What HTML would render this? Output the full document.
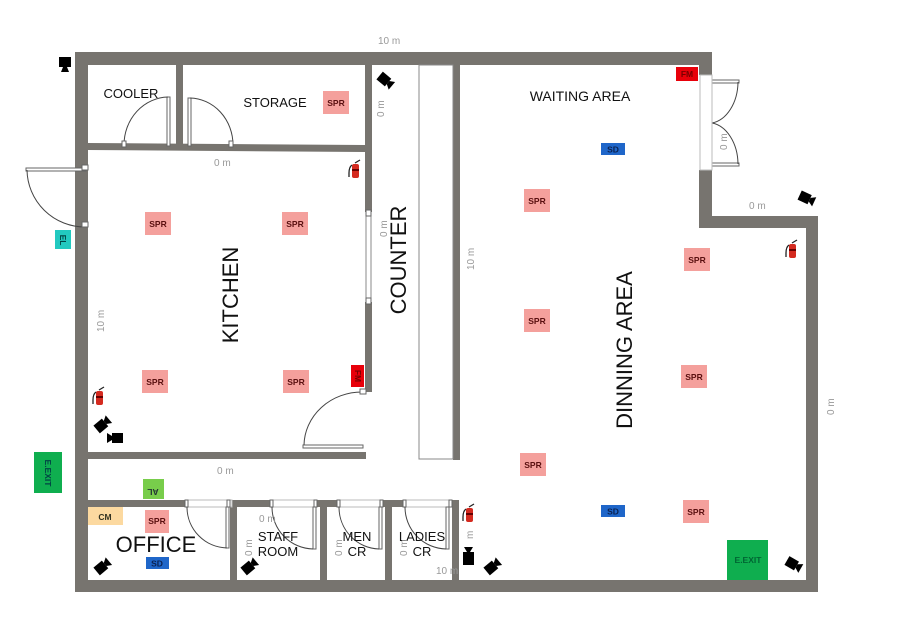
<!DOCTYPE html>
<html><head><meta charset="utf-8"><style>
html,body{margin:0;padding:0;background:#fff;}
svg{display:block;font-family:"Liberation Sans",sans-serif;}
.w{fill:#77746f;}
.d{fill:none;stroke:#444;stroke-width:1;}
.dl{fill:#fff;stroke:#666;stroke-width:1;}
.m{fill:#999;font-size:10px;}
.spr{fill:#f4a09c;}
.st{fill:#5a1010;font-size:8.5px;font-weight:bold;text-anchor:middle;}
.big{fill:#111;text-anchor:middle;}
</style></head><body>
<svg width="909" height="641" viewBox="0 0 909 641" xmlns="http://www.w3.org/2000/svg">
<defs>
<g id="cam"><rect x="-7" y="-5" width="11" height="10" fill="#000"/><polygon points="4,-2 9,-5 9,5 4,2" fill="#000"/></g>
<g id="ext"><rect x="-3" y="-6" width="7" height="14" rx="2" fill="#d42a1f"/><rect x="-3" y="-1" width="7" height="2" fill="#600"/><path d="M-3,-5 q-3,2 -3,8 l0,4" stroke="#222" stroke-width="1.3" fill="none"/><path d="M0,-7 l5,-3" stroke="#222" stroke-width="1.3"/></g>
</defs>
<!-- walls -->
<rect class="w" x="75" y="52" width="637" height="13"/>
<rect class="w" x="699" y="52" width="13" height="23"/>
<rect class="w" x="699" y="170" width="13" height="58"/>
<rect class="w" x="699" y="216" width="119" height="12"/>
<rect class="w" x="806" y="216" width="12" height="376"/>
<rect class="w" x="75" y="52" width="13" height="540"/>
<rect class="w" x="75" y="580" width="743" height="12"/>
<rect class="w" x="176" y="65" width="7" height="84"/>
<polygon class="w" points="87,143 365,145 365,152 87,150"/>
<rect class="w" x="365" y="65" width="7" height="147"/>
<rect class="w" x="365" y="302" width="7" height="90"/>
<rect class="w" x="87" y="452" width="279" height="7"/>
<rect class="w" x="453" y="65" width="7" height="395"/>
<rect class="w" x="87" y="500" width="98" height="7"/>
<rect class="w" x="230" y="500" width="7" height="80"/>
<rect class="w" x="320" y="500" width="7" height="80"/>
<rect class="w" x="385" y="500" width="7" height="80"/>
<rect class="w" x="452" y="500" width="7" height="80"/>
<rect class="w" x="232" y="500" width="38" height="7"/>
<rect class="w" x="317" y="500" width="20" height="7"/>
<rect class="w" x="383" y="500" width="20" height="7"/>
<!-- counter -->
<rect x="419" y="65" width="34" height="394" fill="#fff" stroke="#888" stroke-width="1"/>
<!-- kitchen window -->
<rect x="366" y="212" width="5" height="90" fill="#fff" stroke="#888"/>
<rect x="366" y="210" width="5" height="6" fill="#fff" stroke="#666"/>
<rect x="366" y="298" width="5" height="6" fill="#fff" stroke="#666"/>
<!-- doors -->
<rect class="dl" x="167" y="97" width="3" height="49"/>
<path class="d" d="M124,145 A45,48 0 0 1 168,97"/>
<rect class="dl" x="188" y="98" width="3" height="48"/>
<path class="d" d="M190,98 A44,47 0 0 1 233,145"/>
<rect class="dl" x="122" y="141" width="4" height="6"/><rect class="dl" x="229" y="141" width="4" height="6"/>
<rect class="dl" x="26" y="168" width="60" height="3"/>
<path class="d" d="M27,170 A58,58 0 0 0 85,227"/>
<rect class="dl" x="82" y="165" width="6" height="5"/><rect class="dl" x="82" y="222" width="6" height="5"/>
<rect class="dl" x="303" y="445" width="60" height="3"/>
<path class="d" d="M304,445 A58,54 0 0 1 362,392"/>
<rect class="dl" x="360" y="389" width="6" height="5"/>
<rect class="dl" x="712" y="80" width="27" height="3"/><rect class="dl" x="712" y="163" width="27" height="3"/>
<path class="d" d="M738,82 A30,42 0 0 1 712,123"/><path class="d" d="M712,123 A30,42 0 0 1 738,164"/>
<rect class="dl" x="700" y="75" width="12" height="95" style="fill:none;stroke:#bbb"/>
<g>
<rect class="dl" x="185" y="500" width="47" height="7" style="stroke:#bbb"/>
<rect class="dl" x="185" y="500" width="3" height="7"/><rect class="dl" x="227" y="500" width="3" height="7"/>
<rect class="dl" x="226" y="507" width="3" height="41"/>
<path class="d" d="M187,507 A41,41 0 0 0 227,548"/>
<rect class="dl" x="270" y="500" width="47" height="7" style="stroke:#bbb"/>
<rect class="dl" x="270" y="500" width="3" height="7"/><rect class="dl" x="314" y="500" width="3" height="7"/>
<rect class="dl" x="313" y="507" width="3" height="42"/>
<path class="d" d="M272,507 A42,42 0 0 0 313,549"/>
<rect class="dl" x="337" y="500" width="46" height="7" style="stroke:#bbb"/>
<rect class="dl" x="337" y="500" width="3" height="7"/><rect class="dl" x="380" y="500" width="3" height="7"/>
<rect class="dl" x="379" y="507" width="3" height="42"/>
<path class="d" d="M339,507 A41,42 0 0 0 379,549"/>
<rect class="dl" x="403" y="500" width="49" height="7" style="stroke:#bbb"/>
<rect class="dl" x="403" y="500" width="3" height="7"/><rect class="dl" x="449" y="500" width="3" height="7"/>
<rect class="dl" x="446" y="507" width="3" height="42"/>
<path class="d" d="M405,507 A42,42 0 0 0 446,549"/>
</g>
<!-- labels -->
<text class="big" x="131" y="98" font-size="13">COOLER</text>
<text class="big" x="275" y="107" font-size="13">STORAGE</text>
<text class="big" x="580" y="101" font-size="14">WAITING AREA</text>
<text class="big" font-size="22" transform="translate(238,295) rotate(-90)">KITCHEN</text>
<text class="big" font-size="22" transform="translate(406,260) rotate(-90)">COUNTER</text>
<text class="big" font-size="22" transform="translate(632,350) rotate(-90)">DINNING AREA</text>
<text class="big" x="156" y="552" font-size="22">OFFICE</text>
<text class="big" x="278" y="541" font-size="13">STAFF</text><text class="big" x="278" y="556" font-size="13">ROOM</text>
<text class="big" x="357" y="541" font-size="13">MEN</text><text class="big" x="357" y="556" font-size="13">CR</text>
<text class="big" x="422" y="541" font-size="13">LADIES</text><text class="big" x="422" y="556" font-size="13">CR</text>
<!-- measures -->
<text class="m" x="378" y="44">10 m</text>
<text class="m" x="214" y="166">0 m</text>
<text class="m" x="217" y="474">0 m</text>
<text class="m" x="259" y="522">0 m</text>
<text class="m" x="749" y="209">0 m</text>
<text class="m" x="436" y="574">10 m</text>
<text class="m" transform="translate(384,117) rotate(-90)">0 m</text>
<text class="m" transform="translate(387,237) rotate(-90)">0 m</text>
<text class="m" transform="translate(474,270) rotate(-90)">10 m</text>
<text class="m" transform="translate(727,150) rotate(-90)">0 m</text>
<text class="m" transform="translate(834,415) rotate(-90)">0 m</text>
<text class="m" transform="translate(104,332) rotate(-90)">10 m</text>
<text class="m" transform="translate(252,556) rotate(-90)">0 m</text>
<text class="m" transform="translate(342,556) rotate(-90)">0 m</text>
<text class="m" transform="translate(407,556) rotate(-90)">0 m</text>
<text class="m" transform="translate(473,539) rotate(-90)">m</text>
<!-- SPR -->
<g>
<rect class="spr" x="323" y="91" width="26" height="23"/><text class="st" x="336" y="106">SPR</text>
<rect class="spr" x="145" y="212" width="26" height="23"/><text class="st" x="158" y="227">SPR</text>
<rect class="spr" x="282" y="212" width="26" height="23"/><text class="st" x="295" y="227">SPR</text>
<rect class="spr" x="142" y="370" width="26" height="23"/><text class="st" x="155" y="385">SPR</text>
<rect class="spr" x="283" y="370" width="26" height="23"/><text class="st" x="296" y="385">SPR</text>
<rect class="spr" x="524" y="189" width="26" height="23"/><text class="st" x="537" y="204">SPR</text>
<rect class="spr" x="684" y="248" width="26" height="23"/><text class="st" x="697" y="263">SPR</text>
<rect class="spr" x="524" y="309" width="26" height="23"/><text class="st" x="537" y="324">SPR</text>
<rect class="spr" x="681" y="365" width="26" height="23"/><text class="st" x="694" y="380">SPR</text>
<rect class="spr" x="520" y="453" width="26" height="23"/><text class="st" x="533" y="468">SPR</text>
<rect class="spr" x="145" y="510" width="24" height="23"/><text class="st" x="157" y="524">SPR</text>
<rect class="spr" x="683" y="500" width="26" height="23"/><text class="st" x="696" y="515">SPR</text>
</g>
<!-- SD -->
<rect x="601" y="143" width="24" height="12" fill="#1f66c9"/><text class="st" x="613" y="152.5" style="fill:#0a2150">SD</text>
<rect x="146" y="557" width="23" height="12" fill="#1f66c9"/><text class="st" x="157" y="566.5" style="fill:#0a2150">SD</text>
<rect x="601" y="505" width="24" height="12" fill="#1f66c9"/><text class="st" x="613" y="514.5" style="fill:#0a2150">SD</text>
<!-- FM etc -->
<rect x="676" y="67" width="22" height="14" fill="#e8000a"/><text class="st" x="687" y="77" style="fill:#700">FM</text>
<rect x="351" y="365" width="13" height="22" fill="#e8000a"/><text class="st" transform="translate(355,376) rotate(90)" style="fill:#700">FM</text>
<rect x="55" y="230" width="16" height="19" fill="#22c9c0"/><text class="st" transform="translate(60,240) rotate(90)" style="fill:#044">EL</text>
<rect x="34" y="452" width="28" height="41" fill="#0fae4f"/><text class="st" transform="translate(45,473) rotate(90)" style="fill:#044">E.EXIT</text>
<rect x="727" y="540" width="41" height="40" fill="#0fae4f"/><text class="st" x="748" y="563" style="fill:#063">E.EXIT</text>
<rect x="143" y="479" width="21" height="20" fill="#78cd4b"/><text class="st" transform="translate(153,489) rotate(180)" style="fill:#233">AL</text>
<rect x="88" y="507" width="35" height="18" fill="#fcd9a0"/><text class="st" x="105" y="520" style="fill:#332" font-size="10">CM</text>
<!-- extinguishers -->
<use href="#ext" x="355" y="170"/>
<use href="#ext" x="99" y="397"/>
<use href="#ext" x="792" y="250"/>
<use href="#ext" x="469" y="514"/>
<!-- cameras -->
<g transform="translate(65,64)"><rect x="-6" y="-7" width="12" height="10" fill="#000"/><polygon points="-2,3 2,3 4,8 -4,8" fill="#000"/></g>
<use href="#cam" transform="translate(385,80) rotate(40)"/>
<use href="#cam" transform="translate(806,198) rotate(25)"/>
<use href="#cam" transform="translate(102,425) rotate(-40)"/>
<use href="#cam" transform="translate(116,438) rotate(180)"/>
<use href="#cam" transform="translate(102,567) rotate(-40)"/>
<use href="#cam" transform="translate(249,567) rotate(-40)"/>
<use href="#cam" transform="translate(492,567) rotate(-40)"/>
<use href="#cam" transform="translate(793,564) rotate(30)"/>
<g transform="translate(468,557)"><rect x="-5" y="-5" width="11" height="13" fill="#000"/><polygon points="-4,-10 5,-10 2,-5 -1,-5" fill="#000"/></g>
</svg>
</body></html>
